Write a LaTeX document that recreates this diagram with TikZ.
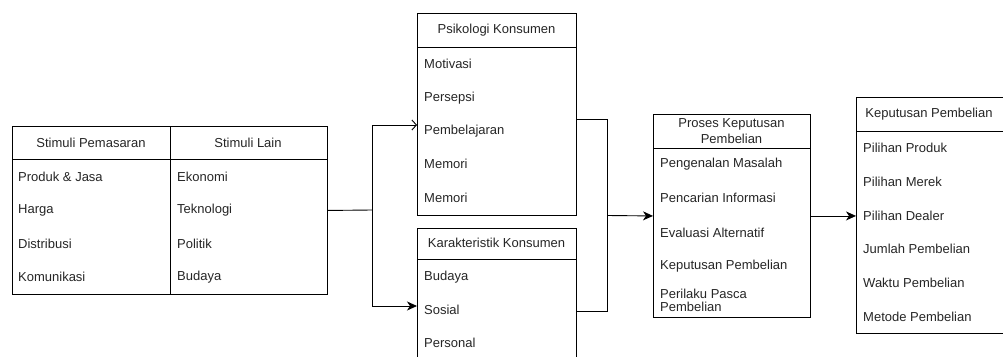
\documentclass[tikz,border=0pt]{standalone}
\usepackage{fontspec}
\setmainfont{Liberation Sans}
\usetikzlibrary{arrows.meta}
\begin{document}
\begin{tikzpicture}[x=1pt,y=-1pt,
  box/.style={draw, line width=0.9pt, anchor=north west, inner sep=0pt},
  item/.style={anchor=west, inner sep=0pt, font=\fontsize{13}{16}\selectfont, text=black!85},
  head/.style={anchor=center, inner sep=0pt, align=center, font=\fontsize{13}{16}\selectfont, text=black!85},
  conn/.style={line width=0.9pt},
  tip/.style={conn, -{Stealth[length=10pt,width=9pt,inset=3pt]}},
  opentip/.style={conn, -{Straight Barb[length=4.5pt,width=10pt]}}]
\useasboundingbox (0,0) rectangle (1003,356);
\clip (0,0) rectangle (1003,356);
\fill[white] (0,0) rectangle (1003,356);
% left box
\node[box, minimum width=315pt, minimum height=168pt] (lbox) at (12,126) {};
\draw[conn] (12,159) -- (327,159);
\draw[conn] (170,126) -- (170,294);
\node[head] (h1) at (91,143) {Stimuli Pemasaran};
\node[head] (h2) at (248,143) {Stimuli Lain};
\node[item] (a1) at (18,177) {Produk \& Jasa};
\node[item] (a2) at (18,210) {Harga};
\node[item] (a3) at (18,244) {Distribusi};
\node[item] (a4) at (18,277) {Komunikasi};
\node[item] (b1) at (177,177) {Ekonomi};
\node[item] (b2) at (177,210) {Teknologi};
\node[item] (b3) at (177,244) {Politik};
\node[item] (b4) at (177,277) {Budaya};
% psikologi
\node[box, minimum width=159pt, minimum height=202pt] (psi) at (417,13) {};
\draw[conn] (417,47) -- (576,47);
\node[head] (hp) at (496.5,30) {Psikologi Konsumen};
\node[item] (p1) at (424,64) {Motivasi};
\node[item] (p2) at (424,98) {Persepsi};
\node[item] (p3) at (424,131) {Pembelajaran};
\node[item] (p4) at (424,164) {Memori};
\node[item] (p5) at (424,198) {Memori};
% karakteristik
\node[box, minimum width=159pt, minimum height=150pt] (kar) at (417,228) {};
\draw[conn] (417,259) -- (576,259);
\node[head] (hk) at (496.5,243) {Karakteristik Konsumen};
\node[item] (k1) at (424,277) {Budaya};
\node[item] (k2) at (424,310) {Sosial};
\node[item] (k3) at (424,343) {Personal};
% proses
\node[box, minimum width=157pt, minimum height=203pt] (pro) at (653,114) {};
\draw[conn] (653,148) -- (810,148);
\node[head] (hr) at (731.5,131) {Proses Keputusan\\Pembelian};
\node[item] (r1) at (660,164) {Pengenalan Masalah};
\node[item] (r2) at (660,198) {Pencarian Informasi};
\node[item] (r3) at (660,233) {Evaluasi Alternatif};
\node[item] (r4) at (660,266) {Keputusan Pembelian};
\node[item, align=left] (r5) at (660,300) {Perilaku Pasca\\[-3pt]Pembelian};
% keputusan
\node[box, minimum width=170pt, minimum height=236pt] (kep) at (856,97) {};
\draw[conn] (856,131) -- (1026,131);
\node[head] (hq) at (929,114) {Keputusan Pembelian};
\node[item] (q1) at (863,148) {Pilihan Produk};
\node[item] (q2) at (863,182) {Pilihan Merek};
\node[item] (q3) at (863,216) {Pilihan Dealer};
\node[item] (q4) at (863,249) {Jumlah Pembelian};
\node[item] (q5) at (863,283) {Waktu Pembelian};
\node[item] (q6) at (863,317) {Metode Pembelian};
% connectors
\coordinate (j1) at (372,210);
\coordinate (j1t) at (372,125);
\coordinate (j1b) at (372,306);
\draw[conn] (lbox.east) -- (j1);
\draw[opentip] (j1) -- (j1t) -- (psi.west |- j1t);
\draw[tip] (j1) -- (j1b) -- (kar.west |- j1b);
\coordinate (j2t) at (607,119);
\coordinate (j2b) at (607,311);
\coordinate (j2) at (607,215.5);
\draw[conn] (psi.east |- j2t) -- (j2t) -- (j2b) -- (kar.east |- j2b);
\draw[tip] (j2) -- (pro.west);
\draw[tip] (pro.east) -- (kep.west |- pro.east);
\end{tikzpicture}
\end{document}
